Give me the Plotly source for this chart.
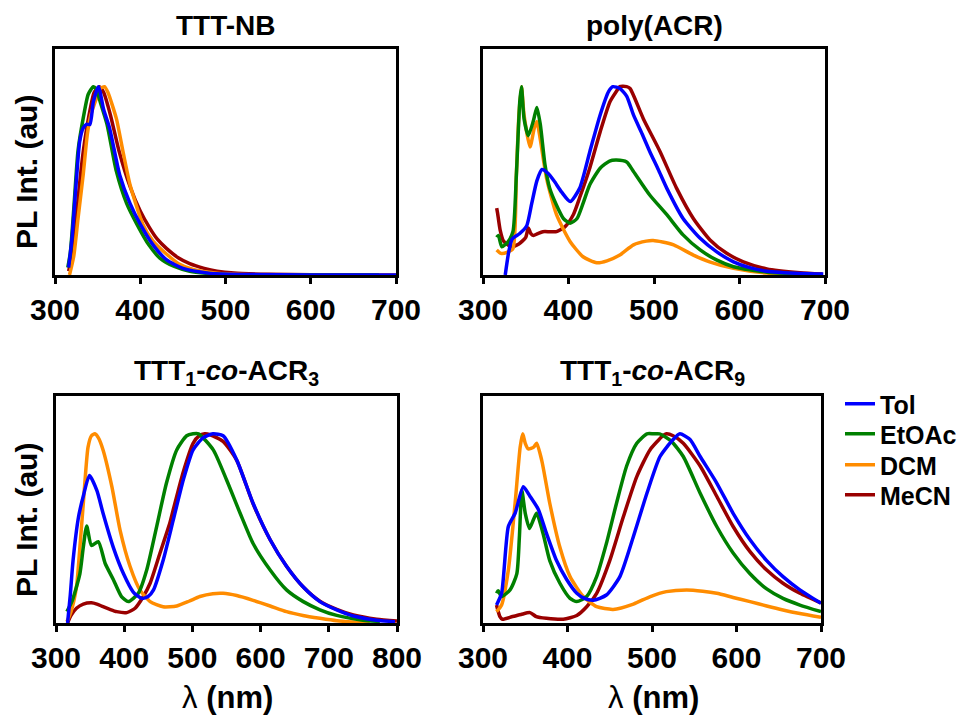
import plotly.graph_objects as go

# ---------------------------------------------------------------------------
# Normalised PL spectra (wavelength in nm, intensity in a.u.)
# ---------------------------------------------------------------------------
solvents = ["Tol", "EtOAc", "DCM", "MeCN"]
line_colors = ["#0000ff", "#008000", "#ff8c00", "#990000"]

panel_titles = [
    "TTT-NB",
    "poly(ACR)",
    "TTT<sub>1</sub>-<i>co</i>-ACR<sub>3</sub>",
    "TTT<sub>1</sub>-<i>co</i>-ACR<sub>9</sub>",
]
x_ticks_short = [300, 400, 500, 600, 700]
x_ticks_long = [300, 400, 500, 600, 700, 800]

# TTT-NB
nb_tol_x = [316, 320, 325, 329, 333, 337, 341, 345, 351, 357, 364, 376, 388, 400, 415, 431, 450, 480, 520, 600, 700]
nb_tol_y = [0.04, 0.2, 0.5, 0.71, 0.78, 0.8, 0.8, 0.92, 1.0, 0.88, 0.78, 0.53, 0.38, 0.27, 0.16, 0.08, 0.035, 0.01, 0.003, 0.0, 0.0]
nb_etoac_x = [315, 318, 322, 327, 333, 339, 345, 348, 353, 361, 372, 384, 396, 410, 423, 440, 458, 480, 500, 550, 680]
nb_etoac_y = [0.04, 0.12, 0.35, 0.66, 0.83, 0.96, 1.0, 0.99, 0.92, 0.8, 0.55, 0.38, 0.27, 0.16, 0.09, 0.045, 0.02, 0.008, 0.003, 0.0, 0.0]
nb_dcm_x = [317, 322, 327, 333, 338, 342, 348, 353, 358, 362, 372, 380, 388, 403, 415, 431, 445, 462, 490, 520, 700]
nb_dcm_y = [0.0, 0.1, 0.3, 0.53, 0.75, 0.85, 0.93, 0.99, 1.0, 0.97, 0.83, 0.65, 0.48, 0.27, 0.18, 0.11, 0.06, 0.03, 0.01, 0.003, 0.0]
nb_mecn_x = [316, 322, 327, 333, 340, 346, 352, 357, 365, 375, 388, 400, 411, 420, 431, 445, 458, 475, 490, 510, 550, 600, 700]
nb_mecn_y = [0.02, 0.15, 0.4, 0.65, 0.85, 0.97, 1.0, 0.97, 0.85, 0.66, 0.47, 0.34, 0.25, 0.19, 0.14, 0.09, 0.06, 0.035, 0.02, 0.01, 0.004, 0.001, 0.0]

# poly(ACR)
acr_tol_x = [326, 330, 334, 343, 351, 357, 363, 369, 376, 383, 392, 402, 413, 425, 437, 447, 452, 460, 468, 476, 486, 495, 505, 515, 534, 554, 573, 593, 612, 632, 671, 698]
acr_tol_y = [0.0, 0.12, 0.19, 0.22, 0.26, 0.38, 0.5, 0.56, 0.54, 0.5, 0.44, 0.39, 0.46, 0.656, 0.85, 0.975, 1.0, 0.99, 0.95, 0.85, 0.75, 0.656, 0.56, 0.46, 0.30, 0.195, 0.124, 0.07, 0.039, 0.02, 0.008, 0.005]
acr_etoac_x = [316, 318, 322, 329, 335, 339, 343, 345, 348, 353, 359, 363, 367, 372.5, 378, 386, 394, 402, 410, 417, 425, 437, 448, 456, 468, 476, 495, 515, 534, 554, 573, 593, 632, 677]
acr_etoac_y = [0.20, 0.21, 0.15, 0.175, 0.23, 0.53, 0.92, 1.0, 0.83, 0.74, 0.82, 0.89, 0.80, 0.585, 0.46, 0.37, 0.30, 0.275, 0.30, 0.38, 0.48, 0.567, 0.605, 0.61, 0.60, 0.55, 0.425, 0.32, 0.213, 0.133, 0.08, 0.044, 0.015, 0.005]
acr_dcm_x = [316, 321, 328, 335, 339, 342, 345, 348, 355, 360, 363, 367, 374.5, 386, 402, 417, 433, 445, 460, 476, 491, 499, 510, 523, 546, 565, 593, 632, 680]
acr_dcm_y = [0.133, 0.115, 0.12, 0.14, 0.53, 0.85, 1.0, 0.85, 0.68, 0.78, 0.815, 0.72, 0.51, 0.32, 0.177, 0.097, 0.065, 0.075, 0.106, 0.16, 0.18, 0.183, 0.175, 0.16, 0.106, 0.07, 0.035, 0.01, 0.003]
acr_mecn_x = [316, 317, 320, 324, 333, 342, 350, 353, 356, 359, 364, 370, 378, 386, 396, 405.6, 413, 425, 437, 448.5, 456, 460, 468, 472, 487.5, 507, 526.5, 546, 565.5, 585, 604.5, 632, 671, 697]
acr_mecn_y = [0.355, 0.33, 0.24, 0.18, 0.15, 0.165, 0.2, 0.25, 0.22, 0.21, 0.22, 0.23, 0.23, 0.23, 0.257, 0.32, 0.41, 0.57, 0.76, 0.92, 0.975, 1.0, 1.0, 0.99, 0.83, 0.656, 0.46, 0.30, 0.186, 0.115, 0.07, 0.032, 0.012, 0.005]

# TTT1-co-ACR3
a3_tol_x = [317, 321, 325, 333, 340, 349, 360, 369, 384, 399, 413, 425.6, 435, 443, 457, 472, 486.7, 501, 516, 530, 545, 565, 589, 614, 638, 662.6, 687, 711.6, 736, 770, 797]
a3_tol_y = [0.0, 0.15, 0.33, 0.56, 0.67, 0.78, 0.70, 0.58, 0.40, 0.26, 0.165, 0.13, 0.14, 0.175, 0.33, 0.545, 0.757, 0.915, 0.98, 1.0, 0.99, 0.862, 0.633, 0.44, 0.30, 0.19, 0.113, 0.069, 0.037, 0.015, 0.007]
a3_etoac_x = [316, 324, 335, 340, 345, 352, 362, 372, 384, 396, 406, 420.7, 433, 447.6, 462, 477, 491.6, 501, 509, 530.6, 550, 570, 589, 614, 638, 662.6, 687, 711.6, 750, 775]
a3_etoac_y = [0.06, 0.12, 0.26, 0.40, 0.513, 0.41, 0.43, 0.316, 0.23, 0.14, 0.113, 0.157, 0.28, 0.51, 0.74, 0.915, 0.99, 1.0, 1.0, 0.915, 0.757, 0.58, 0.42, 0.28, 0.175, 0.113, 0.07, 0.04, 0.015, 0.008]
a3_dcm_x = [316, 322, 330, 335, 340, 347, 352, 357, 362, 369, 382, 394, 408.5, 423, 438, 457, 477, 495, 511, 530, 545, 565, 589, 614, 638, 662, 687, 712, 736, 760]
a3_dcm_y = [0.007, 0.06, 0.19, 0.40, 0.63, 0.93, 0.99, 1.0, 0.98, 0.915, 0.72, 0.49, 0.30, 0.175, 0.113, 0.086, 0.09, 0.115, 0.14, 0.155, 0.157, 0.145, 0.12, 0.09, 0.06, 0.04, 0.025, 0.012, 0.005, 0.0]
a3_mecn_x = [317, 322, 330, 340, 352, 360, 369, 379, 389, 403.7, 416, 428, 438, 452.5, 467, 472, 486.7, 501, 510, 518, 526, 545, 565, 589, 614, 638, 662.6, 687, 711.6, 736, 770, 800]
a3_mecn_y = [0.0, 0.04, 0.078, 0.10, 0.107, 0.10, 0.086, 0.072, 0.06, 0.055, 0.078, 0.14, 0.21, 0.37, 0.53, 0.60, 0.80, 0.95, 0.99, 1.0, 0.995, 0.96, 0.86, 0.63, 0.44, 0.30, 0.19, 0.115, 0.072, 0.042, 0.02, 0.01]

# TTT1-co-ACR9
a9_tol_x = [316, 322, 330, 338, 347.7, 355.6, 365.5, 375, 387, 399, 411, 420, 430.5, 446, 462, 478, 494, 509.5, 525, 533, 545, 557, 576.6, 596, 616, 635.7, 655, 675, 700]
a9_tol_y = [0.095, 0.157, 0.51, 0.58, 0.72, 0.67, 0.60, 0.475, 0.33, 0.23, 0.157, 0.13, 0.12, 0.148, 0.245, 0.457, 0.686, 0.88, 0.97, 1.0, 0.97, 0.88, 0.74, 0.58, 0.44, 0.33, 0.245, 0.175, 0.104]
a9_etoac_x = [316, 318, 322, 332, 340, 343, 346, 350, 355, 360, 363.5, 371, 379, 391, 403, 411, 422.7, 434.5, 446, 458, 470, 482, 494, 502, 509, 523, 537, 557, 576.6, 596, 616, 635.7, 655, 675, 700]
a9_etoac_y = [0.157, 0.17, 0.14, 0.175, 0.26, 0.45, 0.70, 0.58, 0.50, 0.55, 0.58, 0.475, 0.33, 0.21, 0.13, 0.113, 0.14, 0.245, 0.42, 0.633, 0.83, 0.95, 1.0, 1.0, 1.0, 0.96, 0.88, 0.686, 0.51, 0.37, 0.26, 0.18, 0.13, 0.095, 0.06]
a9_dcm_x = [316, 322, 330, 338, 344, 347, 350, 353.6, 360, 363.5, 369.5, 379, 391, 403, 418.7, 434.5, 454, 478, 498, 517, 541, 560, 576.6, 596, 616, 635.7, 655, 675, 700]
a9_dcm_y = [0.06, 0.095, 0.28, 0.633, 0.93, 1.0, 0.95, 0.92, 0.93, 0.95, 0.86, 0.633, 0.40, 0.245, 0.14, 0.086, 0.072, 0.10, 0.14, 0.166, 0.175, 0.168, 0.157, 0.135, 0.113, 0.09, 0.069, 0.05, 0.03]
a9_mecn_x = [316, 320, 323, 335, 345, 355.6, 363, 375, 395, 411, 422.7, 434.5, 450, 466, 482, 497.6, 513, 517, 525, 537, 557, 576.6, 596, 616, 635.7, 655, 675, 700]
a9_mecn_y = [0.095, 0.034, 0.02, 0.034, 0.045, 0.055, 0.034, 0.025, 0.02, 0.04, 0.086, 0.157, 0.33, 0.56, 0.774, 0.915, 0.99, 1.0, 0.99, 0.95, 0.83, 0.67, 0.51, 0.377, 0.28, 0.21, 0.157, 0.106]

panel_series = [
    [(nb_tol_x, nb_tol_y), (nb_etoac_x, nb_etoac_y), (nb_dcm_x, nb_dcm_y), (nb_mecn_x, nb_mecn_y)],
    [(acr_tol_x, acr_tol_y), (acr_etoac_x, acr_etoac_y), (acr_dcm_x, acr_dcm_y), (acr_mecn_x, acr_mecn_y)],
    [(a3_tol_x, a3_tol_y), (a3_etoac_x, a3_etoac_y), (a3_dcm_x, a3_dcm_y), (a3_mecn_x, a3_mecn_y)],
    [(a9_tol_x, a9_tol_y), (a9_etoac_x, a9_etoac_y), (a9_dcm_x, a9_dcm_y), (a9_mecn_x, a9_mecn_y)],
]
panel_ticks = [x_ticks_short, x_ticks_short, x_ticks_long, x_ticks_short]

# ---------------------------------------------------------------------------
# Page geometry (pixels) and helpers
# ---------------------------------------------------------------------------
W, H = 968, 715
FONT = "Liberation Sans, Arial, sans-serif"
boxes = [(55, 49, 396, 275), (483, 49, 825, 275), (56, 396, 397, 623), (483, 396, 821, 623)]
legend_rows = [404, 434, 465, 495]
legend_names = ["legend", "legend2", "legend3", "legend4"]


def fx(p):
    return p / W


def fy(p):
    return 1 - p / H


fig = go.Figure()

# draw order: MeCN at the back, Tol on top
draw_order = [3, 2, 1, 0]
for k, series in enumerate(panel_series):
    suffix = "" if k == 0 else str(k + 1)
    for s in draw_order:
        xs, ys = series[s]
        fig.add_trace(go.Scatter(
            x=xs, y=ys, mode="lines",
            line=dict(color=line_colors[s], width=3.5, shape="spline", smoothing=0.6),
            name=solvents[s], legendgroup=solvents[s], legend=legend_names[s],
            showlegend=(k == 3),
            xaxis="x" + suffix, yaxis="y" + suffix,
            hoverinfo="skip",
        ))

axis_common = dict(
    showline=True, mirror=True, linecolor="black", linewidth=3,
    showgrid=False, zeroline=False,
)

layout = dict(
    width=W, height=H,
    margin=dict(l=0, r=0, t=0, b=0, autoexpand=False),
    paper_bgcolor="white", plot_bgcolor="white",
    font=dict(family=FONT, color="black"),
    annotations=[],
)

# one single-entry legend per solvent, stacked in the right margin
for name, row in zip(legend_names, legend_rows):
    layout[name] = dict(
        x=fx(840), y=fy(row), xanchor="left", yanchor="middle",
        font=dict(family=FONT, size=25, weight="bold", color="black"),
        bgcolor="rgba(0,0,0,0)", itemwidth=30,
    )

for k, (l, t, r, b) in enumerate(boxes):
    suffix = "" if k == 0 else str(k + 1)
    ticks = panel_ticks[k]
    layout["xaxis" + suffix] = dict(
        axis_common, domain=[fx(l), fx(r)], anchor="y" + suffix,
        range=[ticks[0], ticks[-1]], tickvals=ticks, ticktext=[str(v) for v in ticks],
        ticks="outside", ticklen=6, tickwidth=3, tickcolor="black",
        tickfont=dict(family=FONT, size=30, weight="bold", color="black"),
    )
    layout["yaxis" + suffix] = dict(
        axis_common, domain=[fy(b), fy(t)], anchor="x" + suffix,
        range=[0, 1.2], showticklabels=False, ticks="",
    )
    # panel title
    layout["annotations"].append(dict(
        text="<b>" + panel_titles[k] + "</b>", xref="paper", yref="paper",
        x=fx((l + r) / 2), y=fy(t - 24), xanchor="center", yanchor="middle",
        showarrow=False, font=dict(family=FONT, size=28, color="black"),
    ))

# y-axis titles (left column)
for cy in (172, 520):
    layout["annotations"].append(dict(
        text="<b>PL Int. (au)</b>", xref="paper", yref="paper",
        x=fx(26), y=fy(cy), xanchor="center", yanchor="middle", textangle=-90,
        showarrow=False, font=dict(family=FONT, size=30, color="black"),
    ))

# x-axis titles (bottom row)
for cx in (227, 653):
    layout["annotations"].append(dict(
        text="λ <b>(nm)</b>", xref="paper", yref="paper",
        x=fx(cx), y=fy(697), xanchor="center", yanchor="middle",
        showarrow=False, font=dict(family=FONT, size=31, color="black"),
    ))

fig.update_layout(**layout)
fig.write_html("out.html")
